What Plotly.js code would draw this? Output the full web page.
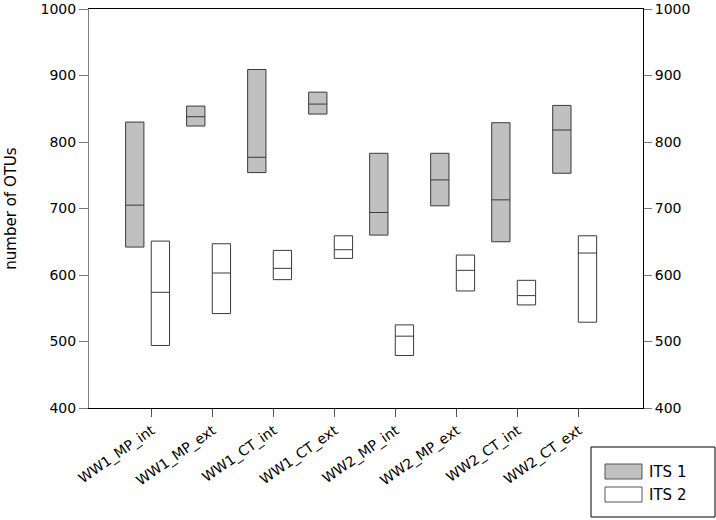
<!DOCTYPE html>
<html>
<head>
<meta charset="utf-8">
<script src="https://cdn.plot.ly/plotly-3.0.1.min.js"></script>
<style>html,body{margin:0;padding:0;background:#fff;}#chart{width:716px;height:520px;}</style>
</head>
<body>
<div id="chart"></div>
<script>
const categories = ["WW1_MP_int","WW1_MP_ext","WW1_CT_int","WW1_CT_ext","WW2_MP_int","WW2_MP_ext","WW2_CT_int","WW2_CT_ext"];
const its1Q1     = [642, 824, 754, 842, 660, 704, 650, 753];
const its1Median = [705, 838, 777, 857, 694, 743, 713, 818];
const its1Q3     = [830, 854, 909, 875, 783, 783, 829, 855];
const its2Q1     = [494, 542, 593, 625, 479, 576, 555, 529];
const its2Median = [574, 603, 610, 638, 508, 607, 569, 633];
const its2Q3     = [651, 647, 637, 659, 525, 630, 592, 659];
const seriesNames = ["ITS 1", "ITS 2"];
const seriesFills = ["#c0c0c0", "#ffffff"];
const yTicks = [400, 500, 600, 700, 800, 900, 1000];

const W = 716, H = 520;
const M = {l: 89, r: 73, t: 9, b: 112};
const idx = categories.map((c, i) => i);
const tickFont = {family: "'DejaVu Sans', sans-serif", size: 14, color: "#000"};
const titleFont = {family: "'DejaVu Sans', sans-serif", size: 15, color: "#000"};
const legFont = {family: "'DejaVu Sans', sans-serif", size: 15, color: "#000"};

function boxTrace(name, q1, med, q3, offset, fill) {
  return {
    type: "box", name: name,
    x: idx.map(i => i + offset),
    q1: q1, median: med, q3: q3,
    lowerfence: q1, upperfence: q3,
    width: 0.3, whiskerwidth: 0,
    fillcolor: fill,
    line: {color: "#3a3a3a", width: 1},
    boxpoints: false, hoverinfo: "skip", showlegend: false
  };
}

const data = [
  boxTrace(seriesNames[0], its1Q1, its1Median, its1Q3, -0.28, seriesFills[0]),
  boxTrace(seriesNames[1], its2Q1, its2Median, its2Q3, 0.14, seriesFills[1]),
  {type: "scatter", x: [null], y: [null], yaxis: "y2", showlegend: false, hoverinfo: "skip", mode: "markers"}
];

// legend drawn in paper coordinates (pixel helpers)
const pw = W - M.l - M.r, ph = H - M.t - M.b;
const px = v => (v - M.l) / pw;
const py = v => (H - M.b - v) / ph;
const shapes = [
  {type: "rect", xref: "paper", yref: "paper", x0: px(591), x1: px(715), y0: py(517), y1: py(447),
   line: {color: "#000", width: 1}, fillcolor: "#fff"}
];
const annotations = [];
const swTop = [464, 487];
seriesNames.forEach((n, k) => {
  shapes.push({type: "rect", xref: "paper", yref: "paper", x0: px(605), x1: px(642),
    y0: py(swTop[k] + 15), y1: py(swTop[k]), line: {color: "#555", width: 1}, fillcolor: seriesFills[k]});
  annotations.push({xref: "paper", yref: "paper", x: px(647), y: py(swTop[k] + 8), xanchor: "left", yanchor: "middle",
    text: n, showarrow: false, font: legFont});
});

const layout = {
  width: W, height: H,
  margin: M,
  paper_bgcolor: "#fff", plot_bgcolor: "#fff",
  font: tickFont,
  boxmode: "overlay",
  showlegend: false,
  shapes: shapes,
  annotations: annotations,
  xaxis: {
    range: [-1.03, 8.05], tickmode: "array", tickvals: idx, ticktext: categories,
    tickangle: -35, ticks: "outside", ticklen: 8, tickcolor: "#555",
    showline: true, linecolor: "#000", linewidth: 1, mirror: true,
    showgrid: false, zeroline: false, tickfont: tickFont
  },
  yaxis: {
    range: [400, 1000], tickmode: "array", tickvals: yTicks,
    ticks: "outside", ticklen: 9, tickcolor: "#777",
    showline: true, linecolor: "#808080", linewidth: 1,
    showgrid: false, zeroline: false, tickfont: tickFont,
    title: {text: "number of OTUs", font: titleFont, standoff: 20}
  },
  yaxis2: {
    overlaying: "y", side: "right", range: [400, 1000],
    tickmode: "array", tickvals: yTicks,
    ticks: "outside", ticklen: 8, tickcolor: "#777",
    showline: true, linecolor: "#000", linewidth: 1,
    showgrid: false, zeroline: false, tickfont: tickFont
  }
};

Plotly.newPlot("chart", data, layout, {displayModeBar: false, staticPlot: true});
</script>
</body>
</html>
